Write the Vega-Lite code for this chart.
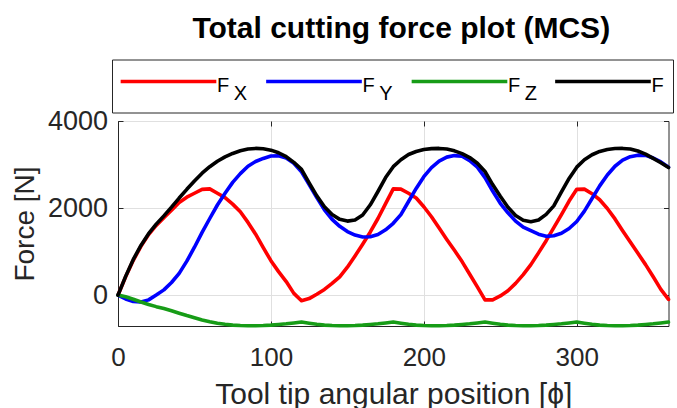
{
  "$schema": "https://vega.github.io/schema/vega-lite/v6.json",
  "width": 550.5,
  "height": 205,
  "autosize": {"type": "none"},
  "padding": {"left": 118, "top": 121, "right": 8.5, "bottom": 82},
  "background": "white",
  "title": {"text": "Total cutting force plot (MCS)", "font": "Liberation Sans", "fontSize": 30, "fontWeight": "bold", "color": "#000000", "anchor": "middle", "frame": "group", "baseline": "alphabetic", "offset": -9, "dx": 8},
  "config": {"view": {"stroke": "#262626", "strokeWidth": 1}, "font": "Liberation Sans"},
  "data": {"values": [
    {"a":0,"FX":0,"FY":0,"FZ":0,"F":0},
    {"a":5,"FX":420,"FY":-90,"FZ":-40,"F":430},
    {"a":10,"FX":800,"FY":-145,"FZ":-95,"F":820},
    {"a":15,"FX":1120,"FY":-160,"FZ":-160,"F":1140},
    {"a":20,"FX":1390,"FY":-110,"FZ":-215,"F":1410},
    {"a":25,"FX":1600,"FY":0,"FZ":-265,"F":1630},
    {"a":30,"FX":1780,"FY":120,"FZ":-310,"F":1820},
    {"a":35,"FX":1950,"FY":290,"FZ":-360,"F":2020},
    {"a":40,"FX":2130,"FY":500,"FZ":-415,"F":2230},
    {"a":45,"FX":2250,"FY":780,"FZ":-470,"F":2430},
    {"a":50,"FX":2340,"FY":1100,"FZ":-520,"F":2620},
    {"a":55,"FX":2430,"FY":1440,"FZ":-570,"F":2800},
    {"a":60,"FX":2440,"FY":1760,"FZ":-610,"F":2950},
    {"a":65,"FX":2340,"FY":2070,"FZ":-645,"F":3075},
    {"a":70,"FX":2240,"FY":2340,"FZ":-670,"F":3175},
    {"a":75,"FX":2090,"FY":2590,"FZ":-690,"F":3255},
    {"a":80,"FX":1915,"FY":2790,"FZ":-700,"F":3315},
    {"a":85,"FX":1670,"FY":2960,"FZ":-705,"F":3355},
    {"a":90,"FX":1400,"FY":3070,"FZ":-705,"F":3370},
    {"a":95,"FX":1090,"FY":3140,"FZ":-700,"F":3362},
    {"a":100,"FX":790,"FY":3195,"FZ":-690,"F":3330},
    {"a":105,"FX":540,"FY":3200,"FZ":-675,"F":3270},
    {"a":110,"FX":310,"FY":3150,"FZ":-660,"F":3180},
    {"a":115,"FX":40,"FY":3030,"FZ":-640,"F":3050},
    {"a":120,"FX":-130,"FY":2830,"FZ":-620,"F":2890},
    {"a":125,"FX":-80,"FY":2540,"FZ":-645,"F":2580},
    {"a":130,"FX":20,"FY":2240,"FZ":-670,"F":2280},
    {"a":135,"FX":130,"FY":1960,"FZ":-690,"F":2030},
    {"a":140,"FX":270,"FY":1740,"FZ":-700,"F":1850},
    {"a":145,"FX":420,"FY":1580,"FZ":-705,"F":1740},
    {"a":150,"FX":640,"FY":1460,"FZ":-705,"F":1700},
    {"a":155,"FX":900,"FY":1380,"FZ":-700,"F":1725},
    {"a":160,"FX":1170,"FY":1335,"FZ":-690,"F":1840},
    {"a":165,"FX":1450,"FY":1340,"FZ":-675,"F":2075},
    {"a":170,"FX":1760,"FY":1390,"FZ":-660,"F":2380},
    {"a":175,"FX":2100,"FY":1500,"FZ":-640,"F":2700},
    {"a":180,"FX":2440,"FY":1650,"FZ":-620,"F":2950},
    {"a":185,"FX":2435,"FY":1850,"FZ":-645,"F":3110},
    {"a":190,"FX":2340,"FY":2150,"FZ":-670,"F":3230},
    {"a":195,"FX":2230,"FY":2450,"FZ":-690,"F":3300},
    {"a":200,"FX":2030,"FY":2720,"FZ":-700,"F":3345},
    {"a":205,"FX":1800,"FY":2930,"FZ":-705,"F":3365},
    {"a":210,"FX":1540,"FY":3080,"FZ":-705,"F":3370},
    {"a":215,"FX":1280,"FY":3170,"FZ":-700,"F":3355},
    {"a":220,"FX":1030,"FY":3205,"FZ":-690,"F":3315},
    {"a":225,"FX":770,"FY":3190,"FZ":-675,"F":3250},
    {"a":230,"FX":480,"FY":3090,"FZ":-660,"F":3160},
    {"a":235,"FX":190,"FY":2940,"FZ":-640,"F":3030},
    {"a":240,"FX":-110,"FY":2700,"FZ":-620,"F":2840},
    {"a":245,"FX":-110,"FY":2390,"FZ":-645,"F":2540},
    {"a":250,"FX":-20,"FY":2110,"FZ":-670,"F":2270},
    {"a":255,"FX":100,"FY":1890,"FZ":-690,"F":2020},
    {"a":260,"FX":270,"FY":1700,"FZ":-700,"F":1830},
    {"a":265,"FX":470,"FY":1560,"FZ":-705,"F":1720},
    {"a":270,"FX":700,"FY":1480,"FZ":-705,"F":1685},
    {"a":275,"FX":970,"FY":1400,"FZ":-700,"F":1725},
    {"a":280,"FX":1250,"FY":1350,"FZ":-690,"F":1855},
    {"a":285,"FX":1550,"FY":1365,"FZ":-675,"F":2050},
    {"a":290,"FX":1850,"FY":1420,"FZ":-660,"F":2370},
    {"a":295,"FX":2160,"FY":1530,"FZ":-640,"F":2680},
    {"a":300,"FX":2430,"FY":1690,"FZ":-620,"F":2940},
    {"a":305,"FX":2435,"FY":1930,"FZ":-645,"F":3110},
    {"a":310,"FX":2330,"FY":2220,"FZ":-670,"F":3225},
    {"a":315,"FX":2190,"FY":2510,"FZ":-690,"F":3300},
    {"a":320,"FX":1990,"FY":2760,"FZ":-700,"F":3345},
    {"a":325,"FX":1750,"FY":2960,"FZ":-705,"F":3368},
    {"a":330,"FX":1480,"FY":3100,"FZ":-705,"F":3370},
    {"a":335,"FX":1220,"FY":3180,"FZ":-700,"F":3355},
    {"a":340,"FX":960,"FY":3215,"FZ":-690,"F":3310},
    {"a":345,"FX":700,"FY":3210,"FZ":-675,"F":3240},
    {"a":350,"FX":420,"FY":3150,"FZ":-660,"F":3140},
    {"a":355,"FX":130,"FY":3060,"FZ":-640,"F":3040},
    {"a":360,"FX":-100,"FY":2940,"FZ":-620,"F":2930}
  ]},
  "transform": [{"fold": ["FX", "FY", "FZ", "F"], "as": ["s", "v"]}],
  "layer": [
    {
      "mark": {"type": "line", "strokeWidth": 3.6, "strokeJoin": "round", "strokeCap": "round"},
      "encoding": {
        "x": {"field": "a", "type": "quantitative", "scale": {"domain": [0, 360], "nice": false, "zero": false},
          "axis": {"orient": "bottom", "values": [0, 100, 200, 300], "labelFontSize": 26, "labelColor": "#262626", "labelPadding": 23, "labelFlush": false, "tickSize": -5, "tickColor": "#262626", "domainColor": "#262626", "grid": true, "gridColor": "#e0e0e0", "title": "Tool tip angular position [ϕ]", "titleFontSize": 30, "titleFontWeight": "normal", "titleColor": "#262626", "titleBaseline": "alphabetic", "titleY": 77}},
        "y": {"field": "v", "type": "quantitative", "scale": {"domain": [-710, 4000], "nice": false, "zero": false},
          "axis": {"orient": "left", "values": [0, 2000, 4000], "format": "d", "labelFontSize": 27, "labelColor": "#262626", "labelPadding": 15.5, "tickSize": -5, "tickColor": "#262626", "domainColor": "#262626", "grid": true, "gridColor": "#e0e0e0", "title": "Force [N]", "titleFontSize": 28, "titleFontWeight": "normal", "titleColor": "#262626", "titleBaseline": "alphabetic", "titleX": -85, "titleY": 102.5}},
        "color": {"field": "s", "type": "nominal", "scale": {"domain": ["FX", "FY", "FZ", "F"], "range": ["#ff0000", "#0000ff", "#179c17", "#000000"]},
          "legend": {"orient": "none", "legendX": -6, "legendY": -61.5, "direction": "horizontal", "columns": 4, "title": null, "symbolType": "M-1.2,0H7.4", "symbolSize": 495, "symbolStrokeWidth": 3.6, "symbolFillColor": "transparent", "labelFontSize": 20, "labelColor": "#000000", "labelOffset": 70, "columnPadding": 10.5, "padding": 9, "strokeColor": "#262626", "fillColor": "#ffffff", "labelLimit": 0, "labelBaseline": "middle",
            "labelExpr": "datum.label == 'F' ? ['F', '\u200b\u00a0'] : ['F', '\u200b\u00a0\u00a0\u00a0' + substring(datum.label, 1)]",
            "encode": {"labels": {"update": {"lineHeight": {"value": 8}, "dy": {"value": 4}}}}}}
      }
    },
    {
      "mark": {"type": "point", "opacity": 0},
      "encoding": {
        "x": {"field": "a", "type": "quantitative", "axis": {"orient": "top", "values": [0, 100, 200, 300], "labels": false, "title": null, "grid": false, "domain": false, "tickSize": -5, "tickColor": "#262626"}},
        "y": {"field": "v", "type": "quantitative", "axis": {"orient": "right", "values": [0, 2000, 4000], "labels": false, "title": null, "grid": false, "domain": false, "tickSize": -5, "tickColor": "#262626"}}
      }
    }
  ],
  "resolve": {"axis": {"x": "independent", "y": "independent"}}
}
